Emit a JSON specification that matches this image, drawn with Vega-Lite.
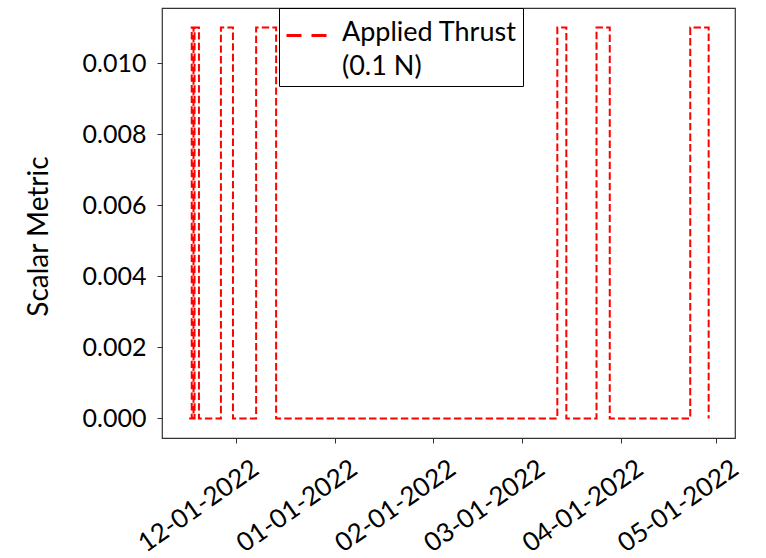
{
  "$schema": "https://vega.github.io/schema/vega-lite/v6.json",
  "autosize": {"type": "none"},
  "width": 573,
  "height": 430,
  "padding": {"left": 162, "top": 8, "right": 31, "bottom": 120},
  "background": "white",
  "config": {
    "font": "Lato",
    "view": {"stroke": "#333333", "strokeWidth": 1.2},
    "axis": {
      "grid": false,
      "domain": false,
      "tickColor": "#333333",
      "tickSize": 5,
      "labelColor": "black",
      "titleColor": "black",
      "labelFont": "Lato",
      "titleFont": "Lato",
      "titleFontWeight": "normal"
    }
  },
  "data": {
    "values": [
      {"time": "2021-11-16T05:00:00", "thrust": 0, "series": "Applied Thrust"},
      {"time": "2021-11-17T00:40:00", "thrust": 0.011, "series": "Applied Thrust"},
      {"time": "2021-11-17T14:00:00", "thrust": 0, "series": "Applied Thrust"},
      {"time": "2021-11-17T22:00:00", "thrust": 0.011, "series": "Applied Thrust"},
      {"time": "2021-11-19T07:00:00", "thrust": 0, "series": "Applied Thrust"},
      {"time": "2021-11-26T05:00:00", "thrust": 0.011, "series": "Applied Thrust"},
      {"time": "2021-11-30T00:00:00", "thrust": 0, "series": "Applied Thrust"},
      {"time": "2021-12-07T07:00:00", "thrust": 0.011, "series": "Applied Thrust"},
      {"time": "2021-12-13T14:00:00", "thrust": 0, "series": "Applied Thrust"},
      {"time": "2022-03-12T02:00:00", "thrust": 0.011, "series": "Applied Thrust"},
      {"time": "2022-03-14T22:00:00", "thrust": 0, "series": "Applied Thrust"},
      {"time": "2022-03-24T10:00:00", "thrust": 0.011, "series": "Applied Thrust"},
      {"time": "2022-03-28T14:00:00", "thrust": 0, "series": "Applied Thrust"},
      {"time": "2022-04-22T22:00:00", "thrust": 0.011, "series": "Applied Thrust"},
      {"time": "2022-04-28T17:00:00", "thrust": 0, "series": "Applied Thrust"}
    ]
  },
  "mark": {
    "type": "line",
    "interpolate": "step-after",
    "strokeWidth": 2,
    "strokeDash": [7.4, 3.2],
    "clip": true
  },
  "encoding": {
    "x": {
      "field": "time",
      "type": "temporal",
      "scale": {
        "domain": [
          {"year": 2021, "month": 11, "date": 7, "hours": 16},
          {"year": 2022, "month": 5, "date": 7, "hours": 0}
        ]
      },
      "axis": {
        "title": null,
        "values": [
          {"year": 2021, "month": 12, "date": 1},
          {"year": 2022, "month": 1, "date": 1},
          {"year": 2022, "month": 2, "date": 1},
          {"year": 2022, "month": 3, "date": 1},
          {"year": 2022, "month": 4, "date": 1},
          {"year": 2022, "month": 5, "date": 1}
        ],
        "labelExpr": "timeFormat(datum.value, '%m-%d') + '-2022'",
        "labelAngle": -35,
        "labelAlign": "right",
        "labelBaseline": "top",
        "labelFontSize": 26,
        "labelPadding": 12,
        "labelOffset": 12,
        "labelOverlap": false,
        "labelFlush": false,
        "labelBound": false
      }
    },
    "y": {
      "field": "thrust",
      "type": "quantitative",
      "scale": {"domain": [-0.00055, 0.01155], "nice": false, "zero": false},
      "axis": {
        "title": "Scalar Metric",
        "values": [0, 0.002, 0.004, 0.006, 0.008, 0.01],
        "format": ".3f",
        "labelFontSize": 25,
        "labelPadding": 11,
        "titleFontSize": 28,
        "titlePadding": 29,
        "titleY": 228
      }
    },
    "color": {
      "field": "series",
      "type": "nominal",
      "scale": {"range": ["#ff0000"]},
      "legend": {
        "title": null,
        "orient": "none",
        "legendX": 117,
        "legendY": 0,
        "symbolType": "stroke",
        "symbolStrokeWidth": 3,
        "symbolDash": [15, 10],
        "symbolSize": 1600,
        "labelExpr": "['Applied Thrust   ', '(0.1 N)']",
        "labelFontSize": 27,
        "labelColor": "black",
        "labelLimit": 400,
        "labelBaseline": "top",
        "labelOffset": 14,
        "strokeColor": "black",
        "fillColor": "white",
        "padding": 6,
        "cornerRadius": 0,
        "encode": {
          "labels": {"update": {"lineHeight": {"value": 34}, "dy": {"value": -16}}}
        }
      }
    }
  }
}
